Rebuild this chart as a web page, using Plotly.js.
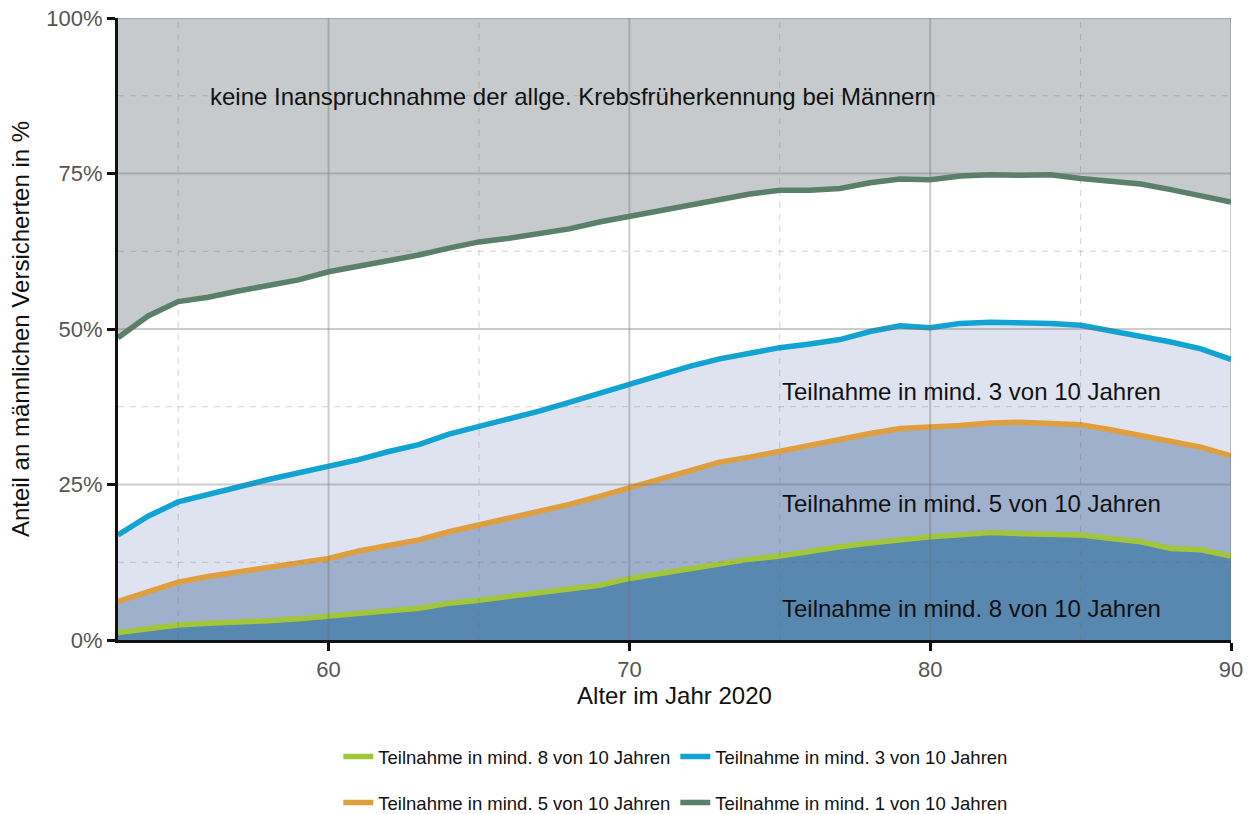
<!DOCTYPE html>
<html>
<head>
<meta charset="utf-8">
<script src="https://cdn.plot.ly/plotly-3.0.1.min.js"></script>
<style>html,body{margin:0;padding:0;background:#fff}#chart{width:1253px;height:814px}</style>
</head>
<body>
<div id="chart"></div>
<script>
const ages = [53,54,55,56,57,58,59,60,61,62,63,64,65,66,67,68,69,70,71,72,73,74,75,76,77,78,79,80,81,82,83,84,85,86,87,88,89,90];
const min8of10 = [1.2,1.9,2.4,2.7,2.8,3.1,3.4,3.9,4.3,4.7,5.1,5.9,6.4,7.0,7.5,8.2,8.8,9.9,10.7,11.5,12.3,13.0,13.5,14.3,15.0,15.6,16.2,16.6,16.9,17.3,17.1,17.0,16.9,16.3,15.8,14.7,14.5,13.5];
const min5of10 = [6.2,7.8,9.3,10.2,11.0,11.8,12.4,13.1,14.3,15.2,16.1,17.4,18.5,19.4,20.6,21.8,23.1,24.5,25.9,27.2,28.6,29.4,30.4,31.3,32.2,33.2,34.0,34.2,34.5,34.9,35.0,34.8,34.6,33.8,32.8,31.8,31.0,29.6];
const min3of10 = [16.9,19.9,22.2,23.5,24.6,25.8,26.8,28.0,29.0,30.3,31.4,33.1,34.3,35.5,36.8,38.2,39.7,41.2,42.6,44.0,45.2,46.2,47.0,47.6,48.3,49.6,50.5,50.2,50.9,51.1,51.1,50.9,50.6,49.7,49.0,47.9,46.8,45.1];
const min1of10 = [48.6,52.1,54.4,55.1,56.1,57.1,57.9,59.2,60.1,60.9,61.9,63.0,64.0,64.6,65.3,66.1,67.2,68.1,69.1,70.1,71.0,71.7,72.3,72.3,72.6,73.5,74.1,74.0,74.6,74.8,74.7,74.8,74.2,73.7,73.3,72.4,71.4,70.4];
const seriesNames = ["Teilnahme in mind. 8 von 10 Jahren","Teilnahme in mind. 5 von 10 Jahren","Teilnahme in mind. 3 von 10 Jahren","Teilnahme in mind. 1 von 10 Jahren"];
const topLabel = "keine Inanspruchnahme der allge. Krebsfrüherkennung bei Männern";
const yTickVals = [0,25,50,75,100];
const yTickText = ["0%","25%","50%","75%","100%"];
const xTickVals = [60,70,80,90];
const yMinorVals = [12.5,37.5,62.5,87.5];
const xMinorVals = [55,65,75,85];
const full = ages.map(() => 100);

const FONT = "Liberation Sans, Arial, sans-serif";
const lw = 5.5;
const noLine = {width: 0, color: 'rgba(0,0,0,0)'};
const fills = [
  {x: ages, y: min8of10, fill: 'tozeroy', fillcolor: '#5887b0'},
  {x: ages, y: min5of10, fill: 'tonexty', fillcolor: '#9eb0cb'},
  {x: ages, y: min3of10, fill: 'tonexty', fillcolor: '#dfe3ef'},
  {x: ages, y: min1of10, fill: 'tonexty', fillcolor: 'rgba(255,255,255,0)'},
  {x: ages, y: full, fill: 'tonexty', fillcolor: '#c6cacd'}
].map(t => Object.assign({type: 'scatter', mode: 'lines', line: noLine, showlegend: false, hoverinfo: 'skip'}, t));

const lines = [
  {x: ages, y: min8of10, name: seriesNames[0], line: {color: '#a2c639', width: lw}, legend: 'legend'},
  {x: ages, y: min5of10, name: seriesNames[1], line: {color: '#e09f3e', width: lw}, legend: 'legend2'},
  {x: ages, y: min3of10, name: seriesNames[2], line: {color: '#11a3d1', width: lw}, legend: 'legend'},
  {x: ages, y: min1of10, name: seriesNames[3], line: {color: '#5a806a', width: lw}, legend: 'legend2'}
].map(t => Object.assign({type: 'scatter', mode: 'lines'}, t));

const traces = fills.concat(lines);

const shapes = [];
const majorLine = {color: 'rgba(110,110,110,0.35)', width: 2};
const minorLine = {color: 'rgba(110,110,110,0.3)', width: 1, dash: '6px,6px'};
xTickVals.forEach(v => shapes.push({type:'line', xref:'x', yref:'paper', x0:v, x1:v, y0:0, y1:1, layer:'above', line: majorLine}));
yTickVals.slice(1).forEach(v => shapes.push({type:'line', xref:'paper', yref:'y', x0:0, x1:1, y0:v, y1:v, layer:'above', line: majorLine}));
xMinorVals.forEach(v => shapes.push({type:'line', xref:'x', yref:'paper', x0:v, x1:v, y0:0, y1:1, layer:'above', line: minorLine}));
yMinorVals.forEach(v => shapes.push({type:'line', xref:'paper', yref:'y', x0:0, x1:1, y0:v, y1:v, layer:'above', line: minorLine}));

const annFont = {family: FONT, size: 24, color: '#111'};
const annotations = [
  {x: 56, y: 87.3, xref:'x', yref:'y', text: topLabel, showarrow:false, xanchor:'left', yanchor:'middle', font: annFont},
  {x: 75, y: 39.9, xref:'x', yref:'y', text: seriesNames[2], showarrow:false, xanchor:'left', yanchor:'middle', font: annFont},
  {x: 75, y: 21.9, xref:'x', yref:'y', text: seriesNames[1], showarrow:false, xanchor:'left', yanchor:'middle', font: annFont},
  {x: 75, y: 5.0, xref:'x', yref:'y', text: seriesNames[0], showarrow:false, xanchor:'left', yanchor:'middle', font: annFont}
];

const legFont = {family: FONT, size: 18.5, color: '#111'};
const legX = 0.270;
const layout = {
  width: 1253, height: 814,
  margin: {l: 118, r: 22, t: 18, b: 174},
  paper_bgcolor: '#fff', plot_bgcolor: '#fff',
  font: {family: FONT},
  showlegend: true,
  xaxis: {range: [53, 90], tickvals: xTickVals, ticktext: xTickVals.map(String), showgrid: false, zeroline: false,
    showline: true, linecolor: '#111', linewidth: 3, ticks: 'outside', ticklen: 8, tickwidth: 3, tickcolor: '#111',
    tickfont: {family: FONT, size: 22, color: '#555'}, layer: 'above traces',
    title: {text: 'Alter im Jahr 2020', font: {family: FONT, size: 24, color: '#111'}, standoff: 5}},
  yaxis: {range: [0, 100], tickvals: yTickVals, ticktext: yTickText, showgrid: false, zeroline: false,
    showline: true, linecolor: '#111', linewidth: 3, ticks: 'outside', ticklen: 8, tickwidth: 3, tickcolor: '#111',
    tickfont: {family: FONT, size: 22, color: '#555'}, layer: 'above traces',
    title: {text: 'Anteil an männlichen Versicherten in %', font: {family: FONT, size: 24, color: '#111'}, standoff: 10}},
  legend: {orientation: 'h', xref: 'container', yref: 'container', x: legX, y: 1 - 757/814, xanchor: 'left', yanchor: 'middle',
    entrywidth: 292, entrywidthmode: 'pixels', font: legFont, bgcolor: 'rgba(0,0,0,0)', traceorder: 'normal'},
  legend2: {orientation: 'h', xref: 'container', yref: 'container', x: legX, y: 1 - 803/814, xanchor: 'left', yanchor: 'middle',
    entrywidth: 292, entrywidthmode: 'pixels', font: legFont, bgcolor: 'rgba(0,0,0,0)', traceorder: 'normal'},
  shapes: shapes,
  annotations: annotations
};
Plotly.newPlot('chart', traces, layout, {displayModeBar: false, staticPlot: true});
</script>
</body>
</html>
